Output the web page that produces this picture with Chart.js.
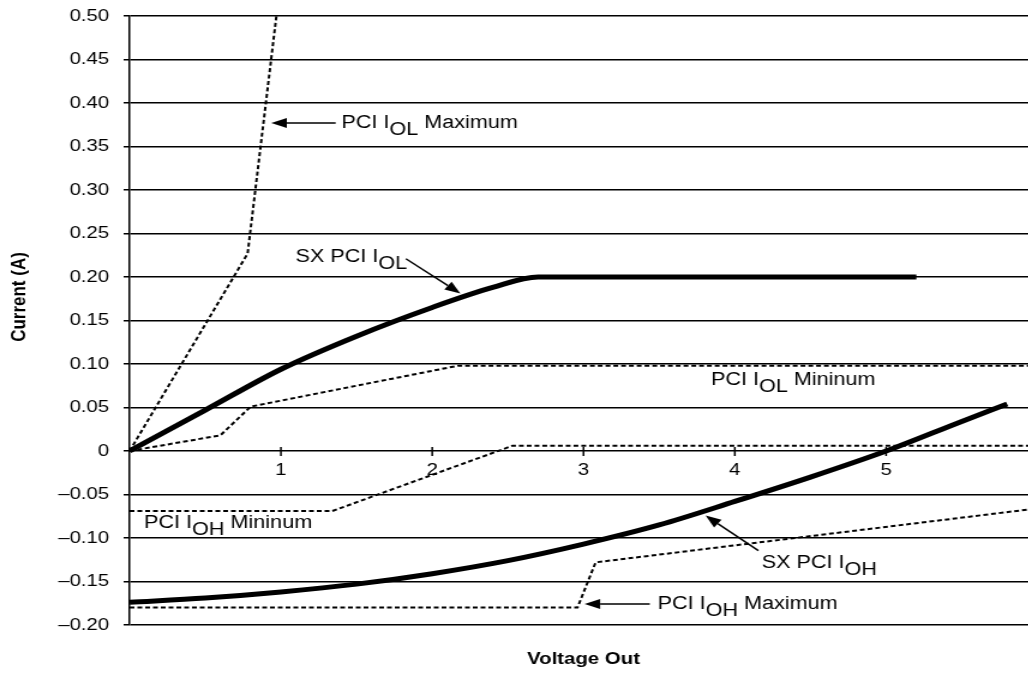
<!DOCTYPE html>
<html>
<head>
<meta charset="utf-8">
<script src="https://cdn.jsdelivr.net/npm/chart.js@4.4.0/dist/chart.umd.min.js"></script>
<style>
  html, body { margin: 0; padding: 0; background: #fff; overflow: hidden; }
  #wrap { width: 867px; height: 683px; transform: scaleX(1.2); transform-origin: 0 0; }
</style>
</head>
<body>
<div id="wrap"><canvas id="chart"></canvas></div>
<script>
// axis range
const xMin = 0, xMax = 6, xStep = 1;
const yMin = -0.2, yMax = 0.5, yStep = 0.05;

// PCI IOL maximum (dotted)
const iolMaxV = [0, 0.78, 0.97];
const iolMaxI = [0, 0.227, 0.50];

// SX PCI IOL (thick)
const sxIolV = [0, 0.5, 1.0, 1.5, 2.0, 2.4, 2.7, 5.2];
const sxIolI = [0, 0.047, 0.094, 0.132, 0.165, 0.188, 0.200, 0.200];

// PCI IOL minimum (dotted)
const iolMinV = [0, 0.6, 0.8, 2.17, 6.0];
const iolMinI = [0, 0.018, 0.051, 0.098, 0.098];

// PCI IOH minimum (dotted)
const iohMinV = [0, 1.34, 2.53, 6.0];
const iohMinI = [-0.069, -0.069, 0.006, 0.006];

// SX PCI IOH (thick)
const sxIohV = [0, 0.5, 1, 1.5, 2, 2.5, 3, 3.5, 4, 4.5, 5, 5.5, 5.8];
const sxIohI = [-0.174, -0.169, -0.162, -0.153, -0.141, -0.126, -0.107, -0.085, -0.058, -0.030, 0.0, 0.034, 0.054];

// PCI IOH maximum (dotted)
const iohMaxV = [0, 2.96, 3.08, 6.0];
const iohMaxI = [-0.180, -0.180, -0.128, -0.066];

// callouts: text start, and arrow tail -> tip, all in data units
const notes = [
  { pre: 'PCI I', sub: 'OL', post: ' Maximum', at: [1.40, 0.377], arrow: [[1.362, 0.377], [0.936, 0.377]] },
  { pre: 'SX PCI I', sub: 'OL', post: '', at: [1.097, 0.223], arrow: [[1.826, 0.221], [2.186, 0.181]] },
  { pre: 'PCI I', sub: 'OL', post: ' Mininum', at: [3.842, 0.081], arrow: null },
  { pre: 'PCI I', sub: 'OH', post: ' Mininum', at: [0.096, -0.083], arrow: null },
  { pre: 'SX PCI I', sub: 'OH', post: '', at: [4.178, -0.129], arrow: [[4.156, -0.1145], [3.807, -0.0742]] },
  { pre: 'PCI I', sub: 'OH', post: ' Maximum', at: [3.489, -0.176], arrow: [[3.438, -0.176], [3.007, -0.176]] }
];

const FONT = '"Liberation Sans", Arial, Helvetica, sans-serif';
Chart.defaults.font.family = FONT;
Chart.defaults.color = '#000';

const toPoints = (xs, ys) => xs.map((x, i) => ({ x: x, y: ys[i] }));

const thick = (xs, ys) => ({
  data: toPoints(xs, ys),
  borderColor: '#000',
  borderWidth: 5,
  pointRadius: 0,
  cubicInterpolationMode: 'monotone',
  fill: false
});

const dotted = (xs, ys) => ({
  data: toPoints(xs, ys),
  borderColor: '#000',
  borderWidth: 2,
  borderDash: [4, 2.5],
  pointRadius: 0,
  tension: 0,
  fill: false
});

const fmtY = v => {
  if (Math.abs(v) < 1e-9) return '0';
  const s = Math.abs(v).toFixed(2);
  return v < 0 ? '\u2013' + s : s;
};

const extras = {
  id: 'extras',
  afterDraw(chart) {
    const { ctx, chartArea, scales: { x, y } } = chart;
    ctx.save();
    ctx.strokeStyle = '#000';
    ctx.fillStyle = '#000';

    // tick marks crossing the zero line
    const y0 = y.getPixelForValue(0);
    ctx.lineWidth = 1.5;
    for (let v = xMin + xStep; v <= xMax; v += xStep) {
      const px = x.getPixelForValue(v);
      ctx.beginPath();
      ctx.moveTo(px, y0 - 4);
      ctx.lineTo(px, y0 + 5);
      ctx.stroke();
    }

    // callouts
    ctx.textBaseline = 'middle';
    ctx.textAlign = 'left';
    ctx.font = '18px ' + FONT;
    notes.forEach(n => {
      let px = x.getPixelForValue(n.at[0]);
      const py = y.getPixelForValue(n.at[1]);
      ctx.fillText(n.pre, px, py);
      px += ctx.measureText(n.pre).width;
      ctx.fillText(n.sub, px, py + 7);
      px += ctx.measureText(n.sub).width;
      if (n.post) ctx.fillText(n.post, px, py);

      if (n.arrow) {
        const tx = x.getPixelForValue(n.arrow[0][0]);
        const ty = y.getPixelForValue(n.arrow[0][1]);
        const hx = x.getPixelForValue(n.arrow[1][0]);
        const hy = y.getPixelForValue(n.arrow[1][1]);
        const ang = Math.atan2(hy - ty, hx - tx);
        const len = 13, half = 5;
        const bx = hx - len * Math.cos(ang), by = hy - len * Math.sin(ang);
        ctx.lineWidth = 1.5;
        ctx.beginPath();
        ctx.moveTo(tx, ty);
        ctx.lineTo(bx, by);
        ctx.stroke();
        ctx.beginPath();
        ctx.moveTo(hx, hy);
        ctx.lineTo(bx + half * Math.sin(ang), by - half * Math.cos(ang));
        ctx.lineTo(bx - half * Math.sin(ang), by + half * Math.cos(ang));
        ctx.closePath();
        ctx.fill();
      }
    });

    // axis titles
    ctx.font = 'bold 17px ' + FONT;
    ctx.textAlign = 'center';
    ctx.fillText('Voltage Out', (chartArea.left + chartArea.right) / 2, 659);
    ctx.translate(16, 297);
    ctx.rotate(-Math.PI / 2);
    ctx.fillText('Current (A)', 0, 0);
    ctx.restore();
  }
};

new Chart(document.getElementById('chart'), {
  type: 'line',
  data: {
    datasets: [
      dotted(iolMaxV, iolMaxI),
      thick(sxIolV, sxIolI),
      dotted(iolMinV, iolMinI),
      dotted(iohMinV, iohMinI),
      thick(sxIohV, sxIohI),
      dotted(iohMaxV, iohMaxI)
    ]
  },
  options: {
    responsive: true,
    maintainAspectRatio: false,
    animation: false,
    events: [],
    layout: { padding: { left: 0, right: 0, top: 16, bottom: 58 } },
    plugins: { legend: { display: false }, tooltip: { enabled: false } },
    scales: {
      x: {
        type: 'linear',
        position: { y: 0 },
        min: xMin,
        max: xMax,
        afterFit: s => { s.paddingLeft = 0; s.paddingRight = 0; },
        ticks: {
          stepSize: xStep,
          padding: 9,
          maxRotation: 0,
          autoSkip: false,
          font: { size: 17 },
          callback: v => (v === 0 ? '' : String(v))
        },
        grid: { display: false, drawTicks: false },
        border: { display: false }
      },
      y: {
        min: yMin,
        max: yMax,
        afterFit: s => { s.width = 108; s.paddingTop = 0; s.paddingBottom = 0; },
        ticks: {
          stepSize: yStep,
          maxTicksLimit: 20,
          padding: 12,
          font: { size: 17 },
          callback: v => fmtY(v)
        },
        grid: { color: '#000', lineWidth: 1.5, tickLength: 5 },
        border: { display: true, color: '#000', width: 1.5 }
      }
    }
  },
  plugins: [extras]
});
</script>
</body>
</html>
